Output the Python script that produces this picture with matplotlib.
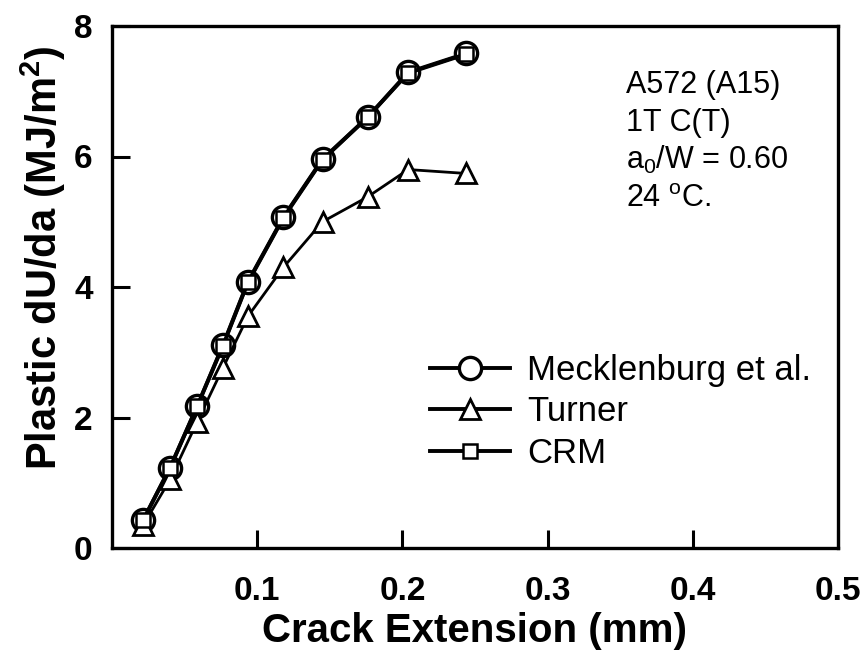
import matplotlib
matplotlib.use("Agg")
import matplotlib.pyplot as plt

plt.rcParams['font.family'] = ['Liberation Sans', 'DejaVu Sans']
plt.rcParams['mathtext.fontset'] = 'custom'
plt.rcParams['mathtext.rm'] = 'Liberation Sans'
plt.rcParams['mathtext.it'] = 'Liberation Sans:italic'
plt.rcParams['mathtext.bf'] = 'Liberation Sans:bold'

# crack extension (mm)
crack_ext = [0.0215, 0.040, 0.0586, 0.0764, 0.0936, 0.118, 0.145, 0.176, 0.204, 0.244]

# plastic dU/da (MJ/m^2)
mecklenburg = [0.43, 1.23, 2.17, 3.11, 4.08, 5.07, 5.96, 6.60, 7.29, 7.58]
turner = [0.35, 1.05, 1.93, 2.76, 3.55, 4.30, 5.00, 5.38, 5.80, 5.74]
crm = [0.43, 1.23, 2.17, 3.10, 4.07, 5.06, 5.95, 6.60, 7.28, 7.57]

x_ticks = [0.1, 0.2, 0.3, 0.4, 0.5]
y_ticks = [0, 2, 4, 6, 8]

W, H = 868, 658
fig = plt.figure(figsize=(W / 100, H / 100), dpi=100)
ax = fig.add_axes([112 / W, 1 - 548 / H, 726 / W, 522 / H])

ax.plot(crack_ext, mecklenburg, color='black', lw=2.8, marker='o', ms=16,
        mfc='white', mec='black', mew=2.4, label='Mecklenburg et al.')
ax.plot(crack_ext, turner, color='black', lw=2.0, marker='^', ms=14,
        mfc='white', mec='black', mew=2.0, label='Turner')
ax.plot(crack_ext, crm, color='black', lw=2.8, marker='s', ms=10.5,
        mfc='white', mec='black', mew=1.8, label='CRM')

ax.set_xlim(0, 0.5)
ax.set_ylim(0, 8)
ax.set_xticks(x_ticks)
ax.set_xticklabels([f'{t:.1f}' for t in x_ticks])
ax.set_yticks(y_ticks)

for side in ['left', 'right', 'top', 'bottom']:
    ax.spines[side].set_linewidth(2.4)

ax.tick_params(direction='in', length=13, width=2.2, labelsize=24)
ax.tick_params(axis='x', pad=20)
ax.tick_params(axis='y', pad=14)
for lbl in ax.get_xticklabels() + ax.get_yticklabels():
    lbl.set_fontweight('bold')

fig.text((112 + 838) / 2 / W, 0.012, 'Crack Extension (mm)', fontsize=29,
         fontweight='bold', ha='center', va='bottom')
fig.text(19 / W, 1 - 258 / H, 'Plastic dU/da (MJ/m$^\\mathbf{2}$)', fontsize=30,
         fontweight='bold', rotation=90, ha='left', va='center')

leg = ax.legend(loc='upper left', bbox_to_anchor=(318 / 726, 194 / 522), frameon=False,
                fontsize=25, handlelength=2.3, handletextpad=0.5, labelspacing=0.24,
                borderaxespad=0, borderpad=0)
for h in leg.legend_handles:
    h.set_linewidth(2.8)

notes = ['A572 (A15)', '1T C(T)', '$\\mathrm{a_0}$/W = 0.60', '24 $^\\mathrm{o}$C.']
for i, note in enumerate(notes):
    base = 82 + 38 * i + 11
    ax.text((626 - 112) / 726, (548 - base) / 522, note, transform=ax.transAxes,
            fontsize=22, va='baseline', ha='left')

fig.savefig('out.png', dpi=100)
